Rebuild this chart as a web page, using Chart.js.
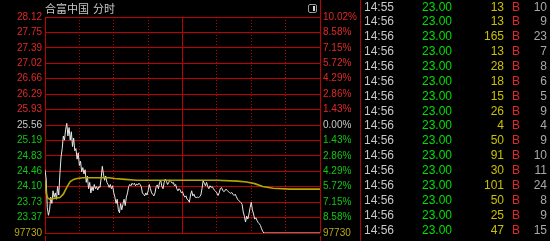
<!DOCTYPE html>
<html>
<head>
<meta charset="utf-8">
<script src="https://cdn.jsdelivr.net/npm/chart.js@4/dist/chart.umd.min.js"></script>
<style>
  html, body { margin:0; padding:0; background:#000; }
  #wrap { position:relative; width:550px; height:241px; background:#000; overflow:hidden; font-family:"Liberation Sans", Arial, sans-serif; }
  #chartBox { position:absolute; left:0; top:0; width:360px; height:241px; }
  .title { position:absolute; top:1px; font-family:"Noto Sans CJK SC", sans-serif; font-size:11px; color:#c8c8c8; line-height:14px; }
  .vline { position:absolute; width:1px; background:#c00000; }
  #icon { position:absolute; left:308px; top:4px; width:7px; height:7px; border:1px solid #9a9a9a; border-radius:2px; }
  #icon i { position:absolute; right:1px; top:1px; width:2px; height:5px; background:#d8d8d8; }
  #list { position:absolute; left:360px; top:0; width:190px; height:241px; border-left:1px solid #b00000; }
  .row { position:absolute; left:0; width:190px; height:15px; font-size:12px; line-height:15px; }
  .row span { position:absolute; top:0; }
  .t { left:3px; color:#c8c8c8; }
  .p { left:61px; color:#00e000; }
  .v { right:47px; color:#c8c000; text-align:right; }
  .s { left:151px; color:#e02828; }
  .c { right:4px; color:#a8a8a8; text-align:right; }
</style>
</head>
<body>
<div id="wrap">
  <div id="chartBox"><canvas id="c" width="360" height="241"></canvas></div>
  <div class="title" style="left:45px">合富中国</div>
  <div class="title" style="left:93px">分时</div>
  <div id="icon"><i></i></div>
  <div class="vline" style="left:320px; top:0; height:18px"></div>
  <div class="vline" style="left:320px; top:236px; height:5px"></div>
  <div class="vline" style="left:45px; top:236px; height:5px"></div>
  <div id="list"></div>
</div>
<script>
// ---- price axis (pre-close 25.56, ±10%) ----
const priceTicks = [28.12, 27.75, 27.39, 27.02, 26.66, 26.29, 25.93, 25.56, 25.19, 24.83, 24.46, 24.10, 23.73, 23.37, 23.00];
const leftLabels = ["28.12","27.75","27.39","27.02","26.66","26.29","25.93","25.56","25.19","24.83","24.46","24.10","23.73","23.37","97730"];
const rightLabels = ["10.02%","8.58%","7.15%","5.72%","4.29%","2.86%","1.43%","0.00%","1.43%","2.86%","4.29%","5.72%","7.15%","8.58%","97730"];
const labelColors = ["#e02828","#e02828","#e02828","#e02828","#e02828","#e02828","#e02828","#c8c8c8","#10c810","#10c810","#10c810","#10c810","#10c810","#10c810","#b8a818"];

// ---- time axis in minutes (0 = 09:30, 120 = 11:30/13:00, 240 = 15:00) ----
const sessionTicks = [0, 120, 240];
const hourTicks = [30, 60, 90, 150, 180, 210];

// ---- intraday price, one value per minute from 09:30 (minute 0) ----
const prices = [
  24.50,24.28,23.60,23.42,23.55,23.85,23.70,24.00,23.85,23.95,
  23.80,24.10,23.90,24.40,24.80,25.00,25.30,25.20,25.45,25.60,
  25.30,25.50,25.20,25.40,25.05,25.25,24.95,25.00,24.75,24.90,
  24.60,24.70,24.45,24.55,24.40,24.50,24.20,24.35,24.05,24.20,
  23.95,24.10,24.00,24.15,24.05,24.10,24.02,24.10,24.08,24.30,
  24.58,24.40,24.25,24.35,24.20,24.15,24.08,24.15,24.05,24.12,
  23.95,23.85,23.70,23.80,23.55,23.48,23.70,23.55,23.68,23.80,
  23.65,23.85,23.95,24.10,24.15,24.12,24.18,24.15,24.18,24.12,
  24.16,24.14,24.18,24.15,24.10,23.95,23.92,23.88,23.95,23.90,
  24.00,24.15,24.05,23.95,23.92,23.88,23.95,24.10,24.14,24.05,
  24.20,24.25,24.10,24.05,24.20,24.28,24.22,24.15,24.20,24.26,
  24.22,24.18,24.20,24.12,24.15,24.05,24.00,24.05,24.02,23.95,
  23.98,23.90,23.85,23.88,23.80,23.78,23.73,23.90,24.00,23.88,
  23.92,23.85,23.84,23.85,23.84,23.86,23.90,24.05,24.24,24.18,
  24.12,24.20,24.10,24.05,24.12,24.08,24.10,24.05,24.01,23.98,
  23.95,23.89,23.95,24.05,24.08,24.02,23.98,24.00,24.04,24.01,
  23.98,23.96,23.94,23.96,23.92,23.89,23.92,23.86,23.80,23.77,
  23.75,23.72,23.68,23.50,23.40,23.26,23.40,23.33,23.45,23.60,
  23.73,23.55,23.45,23.33,23.36,23.30,23.25,23.22,23.18,23.10,
  23.04,23.00
];
// limit-down tail
const tailMinutes = [205, 220, 240];
const tailPrices  = [23.00, 23.00, 23.00];

// ---- average price line (minute, price) ----
const avgMinutes = [0, 1, 2, 4, 8, 13, 16, 19, 22, 25, 28, 33, 56, 61, 70, 80, 150, 168, 176, 183, 190, 199, 214, 240];
const avgPrices  = [24.26, 23.95, 23.84, 23.80, 23.82, 23.84, 23.92, 24.08, 24.22, 24.27, 24.29, 24.31, 24.31, 24.29, 24.27, 24.25, 24.25, 24.23, 24.21, 24.17, 24.10, 24.06, 24.04, 24.04];

// ---- tick list ----
const tradeTimes  = ["14:55","14:56","14:56","14:56","14:56","14:56","14:56","14:56","14:56","14:56","14:56","14:56","14:56","14:56","14:56","14:56"];
const tradePrices = ["23.00","23.00","23.00","23.00","23.00","23.00","23.00","23.00","23.00","23.00","23.00","23.00","23.00","23.00","23.00","23.00"];
const tradeVols   = [13, 13, 165, 13, 28, 18, 15, 26, 4, 50, 91, 30, 101, 50, 25, 47];
const tradeSides  = ["B","B","B","B","B","B","B","B","B","B","B","B","B","B","B","B"];
const tradeCounts = [10, 9, 23, 7, 8, 6, 5, 9, 4, 9, 10, 11, 24, 8, 9, 15];

// build list
const list = document.getElementById('list');
const rowH = 14.87;
tradeTimes.forEach((t, i) => {
  const r = document.createElement('div');
  r.className = 'row';
  r.style.top = (i * rowH - 0.5) + 'px';
  r.innerHTML = '<span class="t">' + t + '</span><span class="p">' + tradePrices[i] +
    '</span><span class="v">' + tradeVols[i] + '</span><span class="s">' + tradeSides[i] +
    '</span><span class="c">' + tradeCounts[i] + '</span>';
  list.appendChild(r);
});

const priceData = prices.map((p, i) => ({x: i, y: p})).concat(tailMinutes.map((m, i) => ({x: m, y: tailPrices[i]})));
const avgData = avgMinutes.map((m, i) => ({x: m, y: avgPrices[i]}));

const setTicks = s => { s.ticks = priceTicks.map(v => ({value: v})); };

new Chart(document.getElementById('c'), {
  type: 'line',
  data: {
    datasets: [
      { data: avgData, borderColor: '#b4a800', borderWidth: 1.6, pointRadius: 0, tension: 0, xAxisID: 'x', yAxisID: 'y' },
      { data: priceData, borderColor: '#e8e8e8', borderWidth: 1, pointRadius: 0, tension: 0, xAxisID: 'x', yAxisID: 'y' }
    ]
  },
  options: {
    responsive: false,
    animation: false,
    devicePixelRatio: 1,
    layout: { padding: { top: 17, bottom: 5, left: 0, right: 0 } },
    plugins: { legend: { display: false }, tooltip: { enabled: false } },
    scales: {
      x: {
        type: 'linear', position: 'bottom', min: 0, max: 240,
        afterBuildTicks: s => { s.ticks = sessionTicks.map(v => ({value: v})); },
        ticks: { display: false, autoSkip: false },
        grid: { drawTicks: false, lineWidth: 1, color: '#c00000' },
        border: { display: false },
        afterFit: s => { s.height = 0; }
      },
      x2: {
        type: 'linear', position: 'bottom', min: 0, max: 240,
        afterBuildTicks: s => { s.ticks = hourTicks.map(v => ({value: v})); },
        ticks: { display: false, autoSkip: false },
        grid: { drawTicks: false, lineWidth: 1, color: '#c00000' },
        border: { display: false, dash: [1, 2] },
        afterFit: s => { s.height = 0; }
      },
      y: {
        type: 'linear', position: 'left', min: 23.00, max: 28.12,
        afterBuildTicks: setTicks,
        afterFit: s => { s.width = 45; },
        ticks: {
          autoSkip: false, padding: 3,
          font: { family: '"Liberation Sans", Arial, sans-serif', size: 10, lineHeight: 1 },
          color: ctx => labelColors[ctx.index],
          callback: (v, i) => leftLabels[i]
        },
        grid: { drawTicks: false, color: '#c00000', lineWidth: 1 },
        border: { display: false }
      },
      y2: {
        type: 'linear', position: 'right', min: 23.00, max: 28.12,
        afterBuildTicks: setTicks,
        afterFit: s => { s.width = 40; },
        ticks: {
          autoSkip: false, padding: 3,
          font: { family: '"Liberation Sans", Arial, sans-serif', size: 10, lineHeight: 1 },
          color: ctx => labelColors[ctx.index],
          callback: (v, i) => rightLabels[i]
        },
        grid: { display: false, drawTicks: false },
        border: { display: false }
      }
    }
  }
});
</script>
</body>
</html>
